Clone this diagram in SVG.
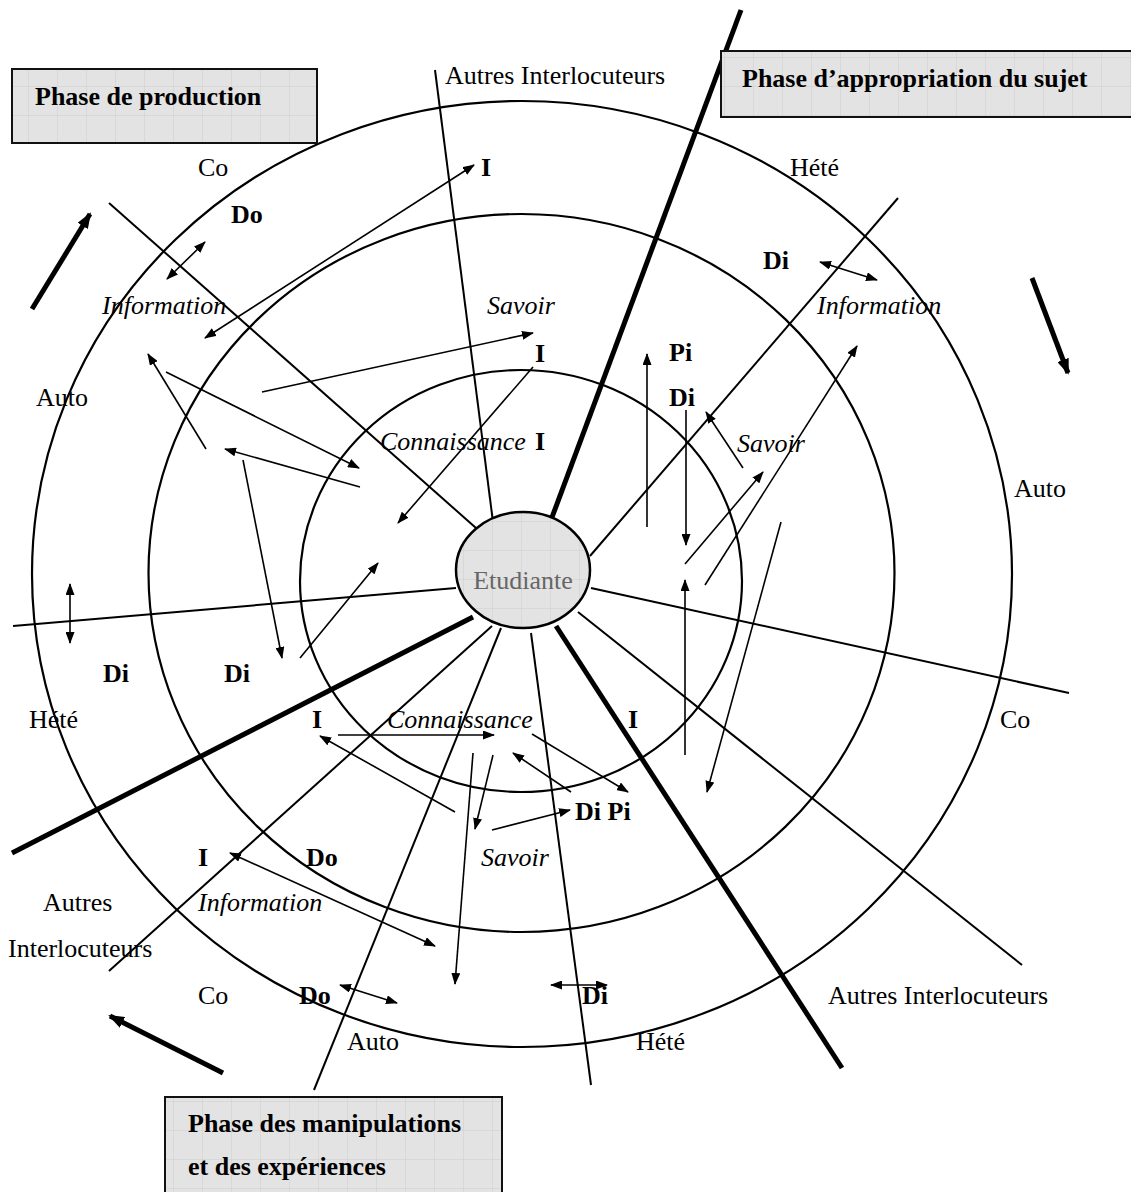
<svg xmlns="http://www.w3.org/2000/svg" width="1131" height="1192" viewBox="0 0 1131 1192">
<style>
.t{font-family:"Liberation Serif","Times New Roman",serif;font-size:26px;fill:#000}
.b{font-weight:bold}
.i{font-style:italic}
.ring{fill:none;stroke:#000;stroke-width:2.2}
.ray{stroke:#000;stroke-width:2;fill:none}
.thick{stroke:#000;stroke-width:5;fill:none}
.ar{stroke:#000;stroke-width:1.6;fill:none;marker-end:url(#ah)}
.dar{stroke:#000;stroke-width:1.6;fill:none;marker-end:url(#ah);marker-start:url(#ah)}
.tar{stroke:#000;stroke-width:5;fill:none;marker-end:url(#aht)}
.box{fill:url(#grid);stroke:#111;stroke-width:2}
</style>
<defs>
<pattern id="grid" width="29" height="29" patternUnits="userSpaceOnUse">
<rect width="29" height="29" fill="#e3e3e3"/>
<path d="M29 0V29M0 29H29" stroke="#cdcdcd" stroke-width="1"/>
</pattern>
<marker id="ah" viewBox="0 0 12 9" refX="11" refY="4.5" markerWidth="12" markerHeight="9" markerUnits="userSpaceOnUse" orient="auto-start-reverse">
<path d="M0 0L12 4.5L0 9z" fill="#000"/>
</marker>
<marker id="aht" viewBox="0 0 16 12" refX="14" refY="6" markerWidth="16" markerHeight="12" markerUnits="userSpaceOnUse" orient="auto">
<path d="M0 0L16 6L0 12z" fill="#000"/>
</marker>
</defs>
<rect width="1131" height="1192" fill="#fff"/>

<g id="rings">
<ellipse class="ring" cx="522" cy="574" rx="490" ry="473"/>
<ellipse class="ring" cx="521.5" cy="573" rx="373" ry="359"/>
<ellipse class="ring" cx="521" cy="581" rx="221" ry="211"/>
</g>

<g id="connectors">
<line class="ray" x1="109" y1="203" x2="476" y2="528"/>
<line class="ray" x1="435" y1="70" x2="493" y2="522"/>
<line class="thick" x1="741" y1="10" x2="551" y2="520"/>
<line class="ray" x1="898" y1="198" x2="590" y2="556"/>
<line class="ray" x1="591" y1="588" x2="1069" y2="693"/>
<line class="ray" x1="578" y1="612" x2="1022" y2="965"/>
<line class="thick" x1="556" y1="626" x2="842" y2="1068"/>
<line class="ray" x1="531" y1="633" x2="591" y2="1085"/>
<line class="ray" x1="501" y1="628" x2="314" y2="1090"/>
<line class="ray" x1="492" y1="626" x2="109" y2="971"/>
<line class="thick" x1="473" y1="617" x2="12" y2="853"/>
<line class="ray" x1="456" y1="588" x2="13" y2="626"/>

<line class="tar" x1="32" y1="309" x2="90" y2="214"/>
<line class="tar" x1="1032" y1="278" x2="1068" y2="373"/>
<line class="tar" x1="223" y1="1073" x2="110" y2="1016"/>

<line class="dar" x1="167" y1="279" x2="205" y2="242"/>
<line class="dar" x1="205" y1="338" x2="474" y2="165"/>
<line class="ar" x1="262" y1="392" x2="533" y2="333"/>
<line class="ar" x1="206" y1="449" x2="148" y2="354"/>
<line class="ar" x1="166" y1="372" x2="359" y2="468"/>
<line class="ar" x1="360" y1="487" x2="225" y2="449"/>
<line class="ar" x1="243" y1="460" x2="282" y2="658"/>
<line class="ar" x1="300" y1="658" x2="378" y2="563"/>
<line class="ar" x1="533" y1="367" x2="398" y2="523"/>
<line class="dar" x1="70" y1="584" x2="70" y2="643"/>

<line class="dar" x1="820" y1="262" x2="877" y2="280"/>
<line class="ar" x1="647" y1="527" x2="647" y2="354"/>
<line class="ar" x1="686" y1="410" x2="686" y2="545"/>
<line class="ar" x1="743" y1="468" x2="706" y2="412"/>
<line class="ar" x1="685" y1="564" x2="763" y2="472"/>
<line class="ar" x1="705" y1="585" x2="857" y2="346"/>
<line class="ar" x1="781" y1="522" x2="707" y2="792"/>
<line class="ar" x1="685" y1="755" x2="685" y2="580"/>

<line class="ar" x1="338" y1="735" x2="494" y2="735"/>
<line class="ar" x1="455" y1="812" x2="320" y2="736"/>
<line class="ar" x1="532" y1="734" x2="628" y2="792"/>
<line class="ar" x1="571" y1="792" x2="513" y2="753"/>
<line class="ar" x1="493" y1="755" x2="475" y2="829"/>
<line class="ar" x1="492" y1="830" x2="570" y2="810"/>
<line class="ar" x1="473" y1="753" x2="455" y2="984"/>
<line class="dar" x1="230" y1="853" x2="435" y2="946"/>
<line class="dar" x1="340" y1="985" x2="397" y2="1003"/>
<line class="dar" x1="551" y1="985" x2="607" y2="985"/>
</g>

<g id="box-production">
<rect class="box" x="12" y="69" width="305" height="74"/>
<text class="t b" x="35" y="105">Phase de production</text>
</g>
<g id="box-appropriation">
<rect class="box" x="721" y="51" width="420" height="66"/>
<text class="t b" x="742" y="87">Phase d’appropriation du sujet</text>
</g>
<g id="box-manipulations">
<rect class="box" x="165" y="1097" width="337" height="110"/>
<text class="t b" x="188" y="1132">Phase des manipulations</text>
<text class="t b" x="188" y="1175">et des expériences</text>
</g>

<g id="etudiante">
<ellipse cx="523" cy="570" rx="67" ry="58" fill="url(#grid)" stroke="#000" stroke-width="2.5"/>
<text class="t" x="523" y="589" text-anchor="middle" fill="#666" style="fill:#666">Etudiante</text>
</g>

<g id="labels">
<text class="t" x="445" y="84">Autres Interlocuteurs</text>
<text class="t" x="198" y="176">Co</text>
<text class="t b" x="231" y="223">Do</text>
<text class="t b" x="481" y="176">I</text>
<text class="t" x="790" y="176">Hété</text>
<text class="t b" x="763" y="269">Di</text>
<text class="t i" x="102" y="314">Information</text>
<text class="t i" x="487" y="314">Savoir</text>
<text class="t i" x="817" y="314">Information</text>
<text class="t" x="36" y="406">Auto</text>
<text class="t b" x="535" y="362">I</text>
<text class="t b" x="669" y="361">Pi</text>
<text class="t b" x="669" y="406">Di</text>
<text class="t i" x="380" y="450">Connaissance</text>
<text class="t b" x="535" y="450">I</text>
<text class="t i" x="737" y="452">Savoir</text>
<text class="t" x="1014" y="497">Auto</text>
<text class="t b" x="103" y="682">Di</text>
<text class="t b" x="224" y="682">Di</text>
<text class="t" x="29" y="728">Hété</text>
<text class="t b" x="312" y="728">I</text>
<text class="t i" x="387" y="728">Connaissance</text>
<text class="t b" x="628" y="728">I</text>
<text class="t" x="1000" y="728">Co</text>
<text class="t b" x="575" y="820">Di Pi</text>
<text class="t b" x="198" y="866">I</text>
<text class="t b" x="306" y="866">Do</text>
<text class="t i" x="481" y="866">Savoir</text>
<text class="t" x="43" y="911">Autres</text>
<text class="t i" x="198" y="911">Information</text>
<text class="t" x="8" y="957">Interlocuteurs</text>
<text class="t" x="198" y="1004">Co</text>
<text class="t b" x="299" y="1004">Do</text>
<text class="t b" x="582" y="1004">Di</text>
<text class="t" x="828" y="1004">Autres Interlocuteurs</text>
<text class="t" x="347" y="1050">Auto</text>
<text class="t" x="636" y="1050">Hété</text>
</g>
</svg>
